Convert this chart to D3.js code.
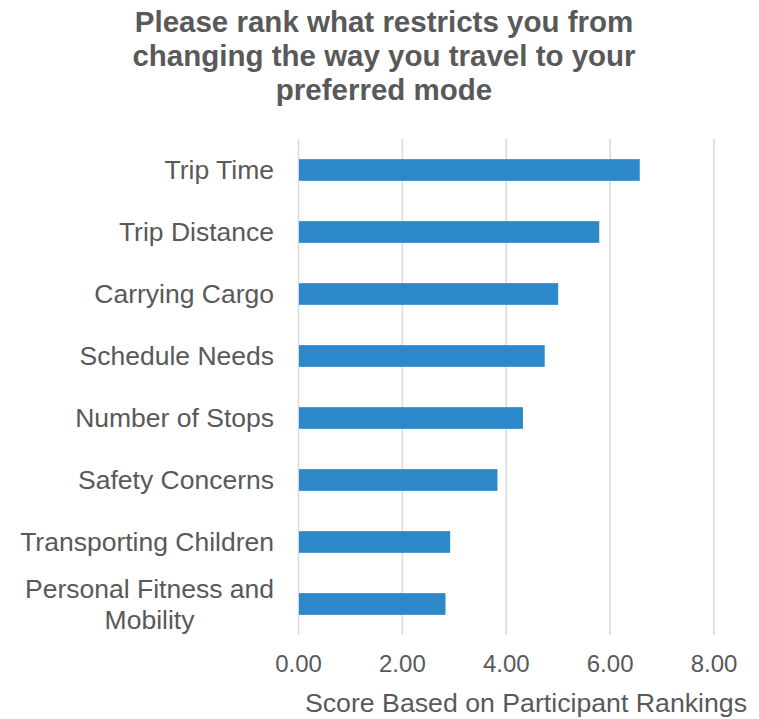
<!DOCTYPE html>
<html>
<head>
<meta charset="utf-8">
<script src="https://cdn.jsdelivr.net/npm/d3@7"></script>
<style>
  body { margin: 0; background: #fff; }
  svg text { font-family: "Liberation Sans", Arial, sans-serif; fill: #595959; }
</style>
</head>
<body>
<svg id="svg" width="759" height="719"></svg>
<script>
// data
const categories = ['Trip Time', 'Trip Distance', 'Carrying Cargo', 'Schedule Needs',
	'Number of Stops', 'Safety Concerns', 'Transporting Children', 'Personal Fitness and Mobility'];
const scores = [6.58, 5.80, 5.01, 4.75, 4.33, 3.84, 2.93, 2.84];
const xTicks = [0, 2, 4, 6, 8];
const titleLines = ['Please rank what restricts you from', 'changing the way you travel to your', 'preferred mode'];
const xTitle = 'Score Based on Participant Rankings';

const margin = { top: 139, left: 298, right: 45.5, bottom: 84 };
const width = 759 - margin.left - margin.right;
const height = 719 - margin.top - margin.bottom;

const svg = d3.select('#svg');

// title
svg.append('text')
	.attr('x', 384)
	.attr('y', 32)
	.attr('text-anchor', 'middle')
	.style('font-weight', 'bold')
	.style('font-size', '29.5px')
	.selectAll('tspan')
	.data(titleLines)
	.enter().append('tspan')
	.attr('x', 384)
	.attr('dy', (d, i) => i ? 34 : 0)
	.text(d => d);

const g = svg.append('g').attr('transform', `translate(${margin.left}, ${margin.top})`);

const x = d3.scaleLinear().domain([0, 8]).range([0, width]);
const y = d3.scaleBand().domain(categories).range([0, height])
	.paddingInner(0.65).paddingOuter(0.325);

// x axis + vertical gridlines
const xAxis = g.append('g')
	.attr('transform', `translate(0, ${height})`)
	.call(d3.axisBottom(x).tickValues(xTicks).tickSize(-height).tickPadding(20).tickFormat(d3.format('.2f')));
xAxis.select('.domain').remove();
xAxis.selectAll('line').attr('stroke', '#d9d9d9').attr('stroke-width', 1.5);
xAxis.selectAll('text').style('font-size', '24px').style('font-family', null).attr('fill', null);

// bars
g.selectAll('rect.bar')
	.data(categories)
	.enter().append('rect')
	.attr('class', 'bar')
	.attr('x', x(0) + 1)
	.attr('y', d => y(d))
	.attr('height', y.bandwidth())
	.attr('width', (d, i) => x(scores[i]) - x(0) - 1)
	.attr('fill', '#2C88C8');

// category labels (wrap the long one like Excel does)
const labels = g.append('g');
categories.forEach(c => {
	const cy = y(c) + y.bandwidth() / 2;
	const t = labels.append('text').style('font-size', '26.5px');
	if (c === 'Personal Fitness and Mobility') {
		const lines = ['Personal Fitness and', 'Mobility'];
		t.attr('text-anchor', 'middle');
		lines.forEach((l, i) => {
			t.append('tspan').attr('x', 0).attr('y', cy + 9 + (i - 0.5) * 31).text(l);
		});
		const w = t.node().getBBox().width;
		t.selectAll('tspan').attr('x', -24 - w / 2);
	} else {
		t.attr('text-anchor', 'end')
			.attr('x', -24)
			.attr('y', cy + 9)
			.text(c);
	}
});

// axis title
svg.append('text')
	.attr('x', 526)
	.attr('y', 712)
	.attr('text-anchor', 'middle')
	.style('font-size', '26.7px')
	.text(xTitle);
</script>
</body>
</html>
